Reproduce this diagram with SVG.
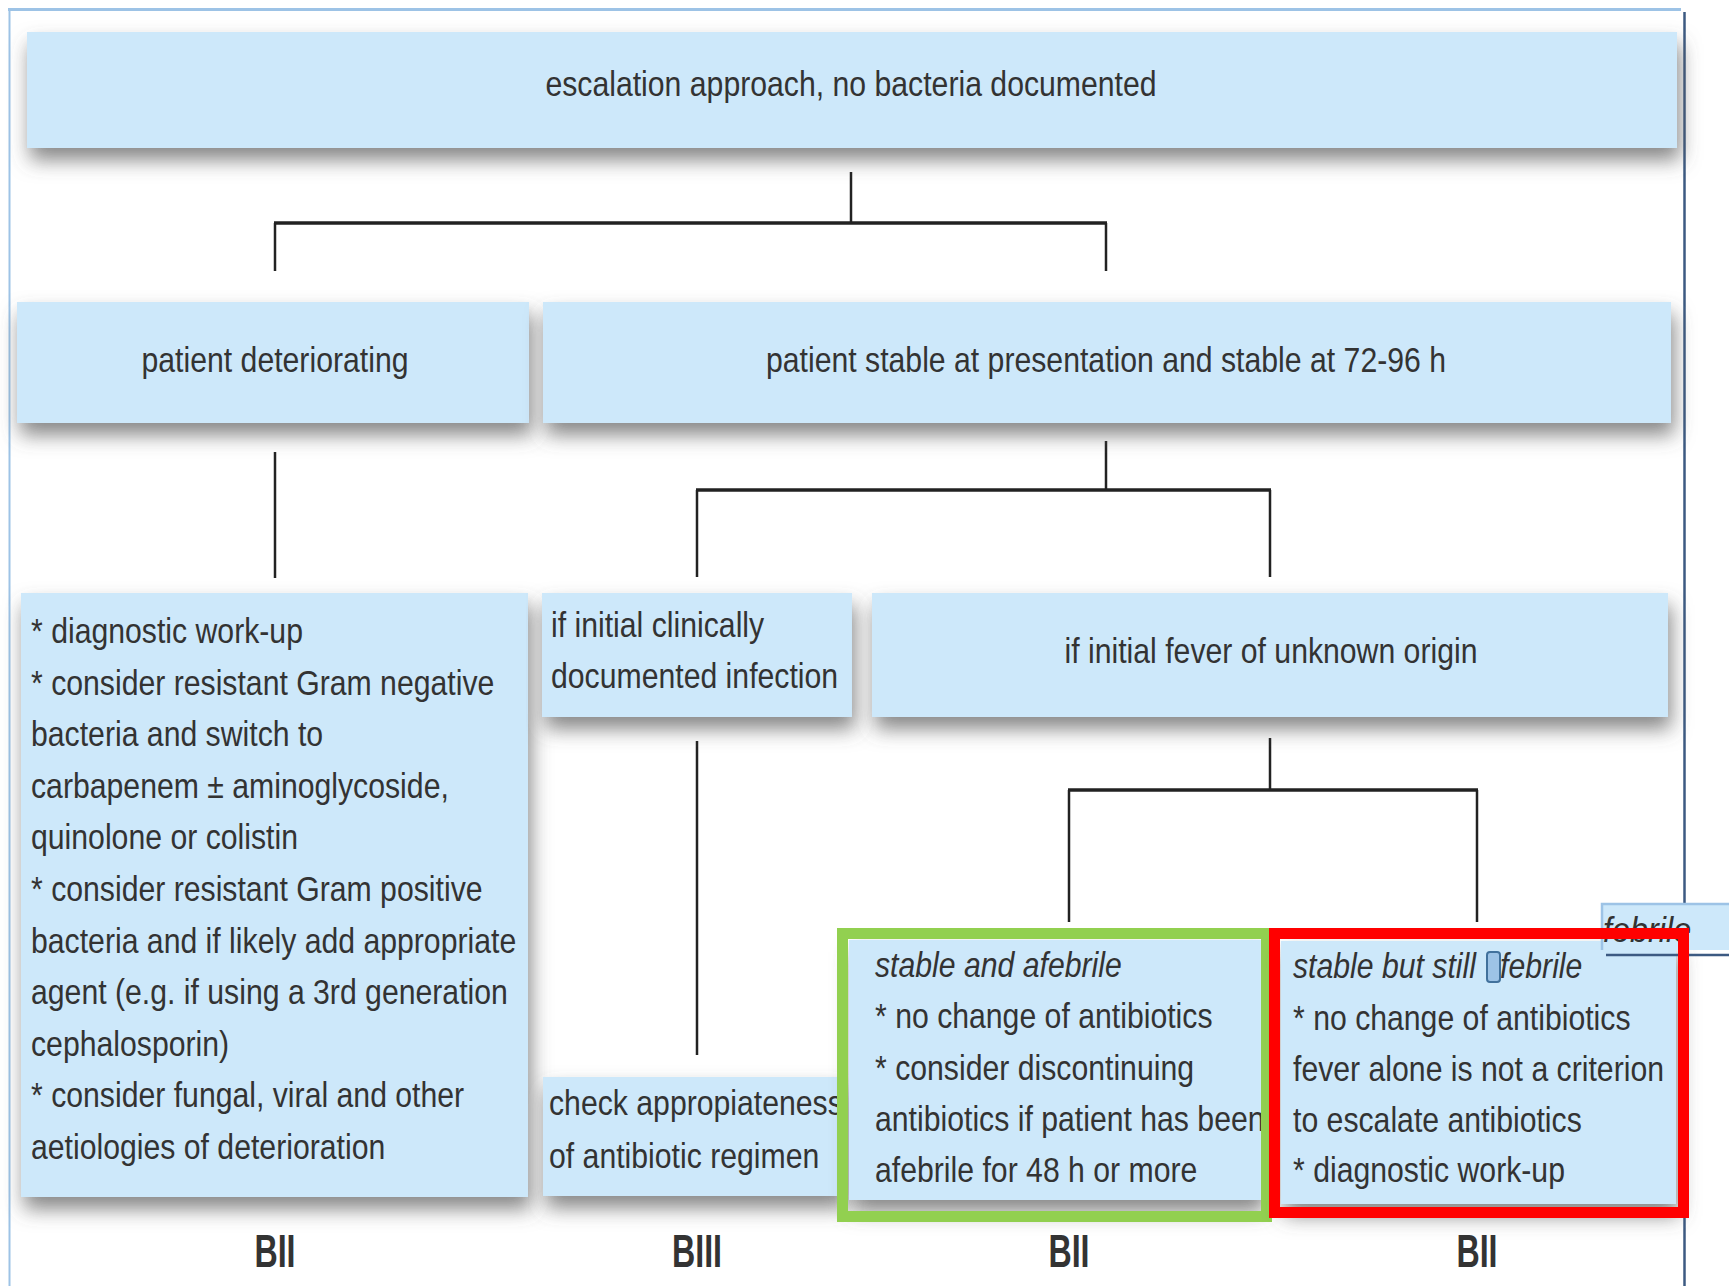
<svg xmlns="http://www.w3.org/2000/svg" width="1729" height="1286" viewBox="0 0 1729 1286">
<style>
.box{fill:#CDE8FA;filter:url(#sh)}
.t{font-family:"Liberation Sans",Arial,sans-serif;font-size:35px;fill:#333}
.it{font-style:italic}
.bii{font-family:"Liberation Sans",Arial,sans-serif;font-size:46px;font-weight:bold;fill:#333}
.ln{fill:none;stroke:#222;stroke-width:2.5}
.bar{fill:none;stroke:#222;stroke-width:3.5}
</style>
<defs>
<filter id="sh" x="-5%" y="-20%" width="112%" height="170%">
<feDropShadow dx="3" dy="12" stdDeviation="10" flood-color="#555" flood-opacity="0.7"/>
</filter>
<clipPath id="fclip"><rect x="1601" y="903" width="128" height="47"/></clipPath>
</defs>
<rect width="1729" height="1286" fill="#fff"/>
<g id="frame">
<line x1="8" y1="9.5" x2="1681" y2="9.5" stroke="#9DC3E6" stroke-width="3"/>
<line x1="9.5" y1="8" x2="9.5" y2="1286" stroke="#9DC3E6" stroke-width="2"/>
<line x1="1684.5" y1="12" x2="1684.5" y2="1286" stroke="#3C5A82" stroke-width="2.5"/>
</g>
<g id="connectors">
<line class="ln" x1="851" y1="172" x2="851" y2="223"/>
<line class="bar" x1="274" y1="223" x2="1107" y2="223"/>
<line class="ln" x1="275" y1="223" x2="275" y2="271"/>
<line class="ln" x1="1106" y1="223" x2="1106" y2="271"/>
<line class="ln" x1="275" y1="452" x2="275" y2="578"/>
<line class="ln" x1="1106" y1="441" x2="1106" y2="490"/>
<line class="bar" x1="696" y1="490" x2="1271" y2="490"/>
<line class="ln" x1="697" y1="490" x2="697" y2="577"/>
<line class="ln" x1="1270" y1="490" x2="1270" y2="577"/>
<line class="ln" x1="697" y1="741" x2="697" y2="1055"/>
<line class="ln" x1="1270" y1="738" x2="1270" y2="790"/>
<line class="bar" x1="1068" y1="790" x2="1478" y2="790"/>
<line class="ln" x1="1069" y1="790" x2="1069" y2="922"/>
<line class="ln" x1="1477" y1="790" x2="1477" y2="922"/>
</g>
<g id="n-top">
<rect class="box" x="27" y="32" width="1650" height="116"/>
<g transform="translate(851 0) scale(0.863 1)"><text class="t" x="0" y="96" text-anchor="middle">escalation approach, no bacteria documented</text></g>
</g>
<g id="n-deteriorating">
<rect class="box" x="17" y="302" width="512" height="121"/>
<g transform="translate(275 0) scale(0.863 1)"><text class="t" x="0" y="372" text-anchor="middle">patient deteriorating</text></g>
</g>
<g id="n-stable">
<rect class="box" x="543" y="302" width="1128" height="121"/>
<g transform="translate(1106 0) scale(0.863 1)"><text class="t" x="0" y="372" text-anchor="middle">patient stable at presentation and stable at 72-96 h</text></g>
</g>
<g id="n-workup">
<rect class="box" x="21" y="593" width="507" height="604"/>
<g transform="translate(31 0) scale(0.863 1)">
<text class="t" x="0" y="643">* diagnostic work-up</text>
<text class="t" x="0" y="695">* consider resistant Gram negative</text>
<text class="t" x="0" y="746">bacteria and switch to</text>
<text class="t" x="0" y="798">carbapenem ± aminoglycoside,</text>
<text class="t" x="0" y="849">quinolone or colistin</text>
<text class="t" x="0" y="901">* consider resistant Gram positive</text>
<text class="t" x="0" y="953">bacteria and if likely add appropriate</text>
<text class="t" x="0" y="1004">agent (e.g. if using a 3rd generation</text>
<text class="t" x="0" y="1056">cephalosporin)</text>
<text class="t" x="0" y="1107">* consider fungal, viral and other</text>
<text class="t" x="0" y="1159">aetiologies of deterioration</text>
</g>
</g>
<g id="n-clinical">
<rect class="box" x="542" y="593" width="310" height="124"/>
<g transform="translate(551 0) scale(0.863 1)">
<text class="t" x="0" y="637">if initial clinically</text>
<text class="t" x="0" y="688">documented infection</text>
</g>
</g>
<g id="n-check">
<rect class="box" x="543" y="1077" width="300" height="119"/>
<g transform="translate(549 0) scale(0.863 1)">
<text class="t" x="0" y="1115">check appropiateness</text>
<text class="t" x="0" y="1168">of antibiotic regimen</text>
</g>
</g>
<g id="n-fever">
<rect class="box" x="872" y="593" width="796" height="124"/>
<g transform="translate(1271 0) scale(0.863 1)"><text class="t" x="0" y="663" text-anchor="middle">if initial fever of unknown origin</text></g>
</g>
<g id="n-afebrile">
<rect class="box" x="849" y="940" width="413" height="260"/>
<g transform="translate(875 0) scale(0.863 1)">
<text class="t it" x="0" y="977">stable and afebrile</text>
<text class="t" x="0" y="1028">* no change of antibiotics</text>
<text class="t" x="0" y="1080">* consider discontinuing</text>
<text class="t" x="0" y="1131">antibiotics if patient has been</text>
<text class="t" x="0" y="1182">afebrile for 48 h or more</text>
</g>
<rect x="842.5" y="933.5" width="424" height="283" fill="none" stroke="#92D050" stroke-width="11"/>
</g>
<g id="n-febrile">
<rect class="box" x="1281" y="941" width="395" height="263"/>
<g transform="translate(1293 0) scale(0.863 1)">
<text class="t it" x="0" y="978">stable but still</text>
<text class="t it" x="240" y="978">febrile</text>
<text class="t" x="0" y="1030">* no change of antibiotics</text>
<text class="t" x="0" y="1081">fever alone is not a criterion</text>
<text class="t" x="0" y="1132">to escalate antibiotics</text>
<text class="t" x="0" y="1182">* diagnostic work-up</text>
</g>
<rect x="1487" y="952" width="13" height="30" rx="3" fill="#9DC3E6" stroke="#41719C" stroke-width="2"/>
<g id="overlay">
<rect x="1601" y="903" width="128" height="47" fill="#CDE8FA"/>
<g clip-path="url(#fclip)"><g transform="translate(1603 0) scale(0.9 1)"><text class="t it" x="0" y="942" style="font-size:36px">febrile</text></g></g>
<path d="M1602,950 V904 H1729" fill="none" stroke="#9DC3E6" stroke-width="2.5"/>
<line x1="1606" y1="955" x2="1729" y2="955" stroke="#3C5A82" stroke-width="2.5"/>
</g>
<rect x="1274.5" y="933.5" width="409" height="279" fill="none" stroke="#FF0000" stroke-width="11"/>
</g>
<g id="grades">
<g transform="translate(275 0) scale(0.7 1)"><text class="bii" x="0" y="1267" text-anchor="middle">BII</text></g>
<g transform="translate(697 0) scale(0.7 1)"><text class="bii" x="0" y="1267" text-anchor="middle">BIII</text></g>
<g transform="translate(1069 0) scale(0.7 1)"><text class="bii" x="0" y="1267" text-anchor="middle">BII</text></g>
<g transform="translate(1477 0) scale(0.7 1)"><text class="bii" x="0" y="1267" text-anchor="middle">BII</text></g>
</g>
</svg>
